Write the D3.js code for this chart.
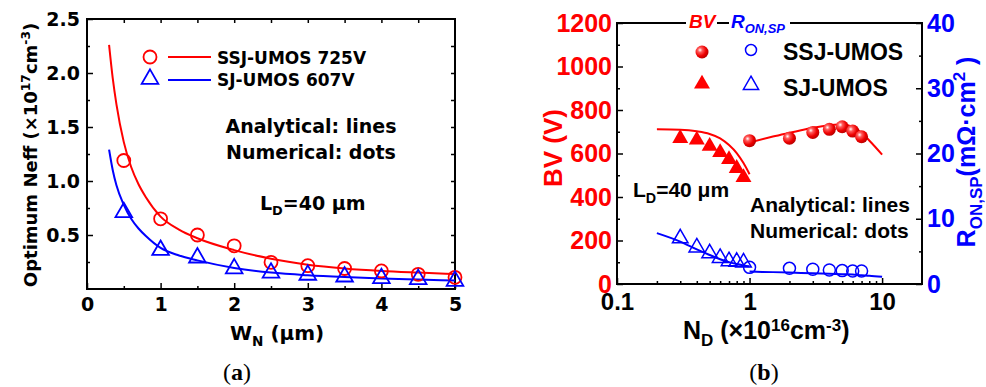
<!DOCTYPE html>
<html>
<head>
<meta charset="utf-8">
<script src="https://cdn.jsdelivr.net/npm/d3@7"></script>
<style>
  body { margin: 0; background: #fff; }
  svg { display: block; }
</style>
</head>
<body>
<div id="chart-area"></div>
<script>

// ---------- panel (a) data ----------
var wnDots = [0.5, 1, 1.5, 2, 2.5, 3, 3.5, 4, 4.5, 5];
var neffSSJ = [1.19, 0.65, 0.50, 0.40, 0.247, 0.216, 0.19, 0.167, 0.136, 0.108];
var neffSJ = [0.71, 0.36, 0.29, 0.19, 0.15, 0.13, 0.114, 0.099, 0.09, 0.074];

var wnLine = [0.3, 0.35, 0.4, 0.5, 0.6, 0.7, 0.8, 1, 1.25, 1.5, 2, 2.5, 3, 3.5, 4, 4.5, 5];
var lineSSJ = [2.26, 1.95, 1.71, 1.36, 1.13, 0.97, 0.85, 0.67, 0.55, 0.47, 0.36, 0.28, 0.225, 0.19, 0.167, 0.152, 0.139];
var lineSJ = [1.29, 1.10, 0.96, 0.78, 0.65, 0.56, 0.49, 0.38, 0.31, 0.265, 0.195, 0.152, 0.127, 0.11, 0.097, 0.087, 0.078];

var xTicksA = [0, 1, 2, 3, 4, 5];
var yTicksA = [0.5, 1.0, 1.5, 2.0, 2.5];

// ---------- panel (b) data ----------
var ndSJ = [0.3, 0.4, 0.5, 0.6, 0.7, 0.8, 0.9];
var bvSJ = [670, 662, 634, 605, 573, 532, 490];
var ronSJ = [7.0, 5.6, 4.7, 4.0, 3.5, 3.4, 3.3];
var ndSSJ = [1, 2, 3, 4, 5, 6, 7];
var bvSSJ = [659, 670, 697, 711, 723, 703, 677];
var ronSSJ = [2.55, 2.4, 2.25, 2.15, 2.05, 2.0, 2.0];

var ndLineSJ = [0.2, 0.3, 0.4, 0.5, 0.6, 0.7, 0.8, 0.9, 1.0];
var bvLineSJ = [711, 709, 702, 690, 670, 639, 602, 556, 505];
var ronLineSJ = [7.8, 6.5, 5.3, 4.45, 3.8, 3.35, 3.05, 2.85, 2.7];
var ndLineSSJ = [1, 1.5, 2, 3, 4, 5, 6, 7, 8, 10];
var bvLineSSJ = [650, 678, 695, 718, 730, 735, 722, 695, 660, 595];
var ronLineSSJ = [1.9, 1.82, 1.75, 1.65, 1.58, 1.5, 1.45, 1.35, 1.28, 1.1];

var xTicksB = [0.1, 1, 10];
var xMinorB = [0.2, 0.3, 0.4, 0.5, 0.6, 0.7, 0.8, 0.9, 2, 3, 4, 5, 6, 7, 8, 9];
var bvTicks = [0, 200, 400, 600, 800, 1000, 1200];
var ronTicks = [0, 10, 20, 30, 40];

var RED = "#ff0000", BLUE = "#0000ff";

var svg = d3.select("#chart-area").append("svg")
    .attr("width", 986)
    .attr("height", 387);

var defs = svg.append("defs");
var grad = defs.append("radialGradient").attr("id", "sphere")
    .attr("cx", "35%").attr("cy", "35%").attr("r", "70%");
grad.append("stop").attr("offset", "0%").attr("stop-color", "#ffffff");
grad.append("stop").attr("offset", "25%").attr("stop-color", "#ff5a5a");
grad.append("stop").attr("offset", "65%").attr("stop-color", "#ee0000");
grad.append("stop").attr("offset", "100%").attr("stop-color", "#b30000");

// text with sub / superscript pieces: [text, "n"|"sub"|"sup"]
function richText(g, x, y, parts, size, attrs, supShift) {
    var t = g.append("text").attr("x", x).attr("y", y).attr("font-size", size);
    for (var k in attrs) t.attr(k, attrs[k]);
    var shift = 0;
    parts.forEach(function(p) {
        var s = t.append("tspan").text(p[0]);
        var target = 0;
        if (p[1] == "sub") { s.attr("font-size", size * 0.68); target = size * 0.28; }
        if (p[1] == "sup") { s.attr("font-size", size * 0.68); target = -size * (supShift || 0.4); }
        if (target - shift != 0) s.attr("dy", target - shift);
        shift = target;
    });
    return t;
}

function styleAxis(sel, size, color) {
    sel.select(".domain").remove();
    sel.selectAll(".tick line").attr("stroke", "#000").attr("stroke-width", 1.5);
    sel.selectAll("text").attr("font-size", size).attr("fill", color || "#000");
    sel.attr("font-family", null);
}

// ================= panel (a) =================
var ga = svg.append("g").attr("font-family", "DejaVu Sans").attr("font-weight", "bold");
var ax = d3.scaleLinear().domain([0, 5]).range([87, 455]);
var ay = d3.scaleLinear().domain([0, 2.5]).range([289, 19]);

ga.append("g").attr("transform", "translate(0,289)")
    .call(d3.axisBottom(ax).tickValues(xTicksA).tickSize(-6).tickPadding(9).tickFormat(d3.format("d")))
    .call(styleAxis, 19);
ga.append("g").attr("transform", "translate(0,289)")
    .call(d3.axisBottom(ax).tickValues([0.5, 1.5, 2.5, 3.5, 4.5]).tickSize(-3).tickFormat(""))
    .call(styleAxis, 19);
ga.append("g").attr("transform", "translate(0,19)")
    .call(d3.axisTop(ax).tickValues([0.5, 1, 1.5, 2, 2.5, 3, 3.5, 4, 4.5]).tickSize(-4).tickFormat(""))
    .call(styleAxis, 19);
ga.append("g").attr("transform", "translate(87,0)")
    .call(d3.axisLeft(ay).tickValues(yTicksA).tickSize(-6).tickPadding(7).tickFormat(d3.format(".1f")))
    .call(styleAxis, 19);
ga.append("g").attr("transform", "translate(87,0)")
    .call(d3.axisLeft(ay).tickValues([0.25, 0.75, 1.25, 1.75, 2.25]).tickSize(-3).tickFormat(""))
    .call(styleAxis, 19);
ga.append("g").attr("transform", "translate(455,0)")
    .call(d3.axisRight(ay).tickValues([0.25, 0.5, 0.75, 1, 1.25, 1.5, 1.75, 2, 2.25]).tickSize(-4).tickFormat(""))
    .call(styleAxis, 19);

ga.append("rect").attr("x", 87).attr("y", 19).attr("width", 368).attr("height", 270)
    .attr("fill", "none").attr("stroke", "#000").attr("stroke-width", 2);

var lineA = d3.line().curve(d3.curveMonotoneX)
    .x(function(d) { return ax(d[0]); }).y(function(d) { return ay(d[1]); });

ga.append("path").datum(d3.zip(wnLine, lineSSJ)).attr("d", lineA)
    .attr("fill", "none").attr("stroke", RED).attr("stroke-width", 2);
ga.append("path").datum(d3.zip(wnLine, lineSJ)).attr("d", lineA)
    .attr("fill", "none").attr("stroke", BLUE).attr("stroke-width", 2);

var tri = d3.symbol().type(d3.symbolTriangle);

ga.selectAll(".ssj-a").data(d3.zip(wnDots, neffSSJ)).enter().append("circle")
    .attr("cx", function(d) { return ax(d[0]); }).attr("cy", function(d) { return ay(d[1]); })
    .attr("r", 6.5).attr("fill", "none").attr("stroke", RED).attr("stroke-width", 1.8);
ga.selectAll(".sj-a").data(d3.zip(wnDots, neffSJ)).enter().append("path")
    .attr("d", tri.size(120))
    .attr("transform", function(d) { return "translate(" + ax(d[0]) + "," + ay(d[1]) + ")"; })
    .attr("fill", "none").attr("stroke", BLUE).attr("stroke-width", 1.8);

// legend (a)
ga.append("circle").attr("cx", 150).attr("cy", 57).attr("r", 6.5)
    .attr("fill", "none").attr("stroke", RED).attr("stroke-width", 1.8);
ga.append("line").attr("x1", 168).attr("x2", 211).attr("y1", 57).attr("y2", 57)
    .attr("stroke", RED).attr("stroke-width", 2);
ga.append("text").attr("x", 217).attr("y", 64).attr("font-size", 17).text("SSJ-UMOS 725V");
ga.append("path").attr("d", tri.size(120)).attr("transform", "translate(150,79)")
    .attr("fill", "none").attr("stroke", BLUE).attr("stroke-width", 1.8);
ga.append("line").attr("x1", 168).attr("x2", 211).attr("y1", 80).attr("y2", 80)
    .attr("stroke", BLUE).attr("stroke-width", 2);
ga.append("text").attr("x", 217).attr("y", 86).attr("font-size", 17).text("SJ-UMOS 607V");

ga.append("text").attr("x", 311).attr("y", 133).attr("font-size", 19)
    .attr("text-anchor", "middle").text("Analytical: lines");
ga.append("text").attr("x", 311).attr("y", 159).attr("font-size", 19)
    .attr("text-anchor", "middle").text("Numerical: dots");
richText(ga, 260, 210, [["L", "n"], ["D", "sub"], ["=40 \u03bcm", "n"]], 19, {});

richText(ga, 230, 340, [["W", "n"], ["N", "sub"], [" (\u03bcm)", "n"]], 20, {});
richText(ga, 0, 0, [["Optimum Neff (\u00d710", "n"], ["17", "sup"], ["cm", "n"], ["-3", "sup"], [")", "n"]], 18,
    {"transform": "translate(37,155) rotate(-90)", "text-anchor": "middle"});

var la = svg.append("text").attr("x", 237).attr("y", 380).attr("text-anchor", "middle")
    .attr("font-family", "Liberation Serif").attr("font-size", 24);
la.append("tspan").text("(");
la.append("tspan").attr("font-weight", "bold").text("a");
la.append("tspan").text(")");

// ================= panel (b) =================
var gb = svg.append("g").attr("font-family", "Liberation Sans").attr("font-weight", "bold");
var bx = d3.scaleLog().domain([0.1, 20]).range([617, 922]);
var byL = d3.scaleLinear().domain([0, 1200]).range([284, 23]);
var byR = d3.scaleLinear().domain([0, 40]).range([284, 23]);

gb.append("g").attr("transform", "translate(0,284)")
    .call(d3.axisBottom(bx).tickValues(xTicksB).tickSize(-6).tickPadding(9).tickFormat(d3.format("~g")))
    .call(styleAxis, 24);
gb.append("g").attr("transform", "translate(0,284)")
    .call(d3.axisBottom(bx).tickValues(xMinorB).tickSize(-3).tickFormat(""))
    .call(styleAxis, 24);
gb.append("g").attr("transform", "translate(617,0)")
    .call(d3.axisLeft(byL).tickValues(bvTicks).tickSize(-6).tickPadding(5).tickFormat(d3.format("d")))
    .call(styleAxis, 25, RED);
gb.append("g").attr("transform", "translate(617,0)")
    .call(d3.axisLeft(byL).tickValues([100, 300, 500, 700, 900, 1100]).tickSize(-3).tickFormat(""))
    .call(styleAxis, 25);
gb.append("g").attr("transform", "translate(922,0)")
    .call(d3.axisRight(byR).tickValues(ronTicks).tickSize(-6).tickPadding(5).tickFormat(d3.format("d")))
    .call(styleAxis, 25, BLUE);
gb.append("g").attr("transform", "translate(922,0)")
    .call(d3.axisRight(byR).tickValues([5, 15, 25, 35]).tickSize(-3).tickFormat(""))
    .call(styleAxis, 25);

gb.append("rect").attr("x", 617).attr("y", 23).attr("width", 305).attr("height", 261)
    .attr("fill", "none").attr("stroke", "#000").attr("stroke-width", 2);

// header sitting on the top frame
gb.append("rect").attr("x", 686).attr("y", 19).attr("width", 104).attr("height", 8).attr("fill", "#fff");
gb.append("text").attr("x", 689).attr("y", 28).attr("font-size", 19).attr("font-style", "italic")
    .attr("fill", RED).text("BV");
gb.append("line").attr("x1", 717).attr("x2", 729).attr("y1", 23).attr("y2", 23)
    .attr("stroke", "#000").attr("stroke-width", 2);
richText(gb, 731, 28, [["R", "n"], ["ON,SP", "sub"]], 19, {"font-style": "italic", "fill": BLUE});

var lineBL = d3.line().curve(d3.curveMonotoneX)
    .x(function(d) { return bx(d[0]); }).y(function(d) { return byL(d[1]); });
var lineBR = d3.line().curve(d3.curveMonotoneX)
    .x(function(d) { return bx(d[0]); }).y(function(d) { return byR(d[1]); });

gb.append("path").datum(d3.zip(ndLineSJ, bvLineSJ)).attr("d", lineBL)
    .attr("fill", "none").attr("stroke", RED).attr("stroke-width", 2);
gb.append("path").datum(d3.zip(ndLineSSJ, bvLineSSJ)).attr("d", lineBL)
    .attr("fill", "none").attr("stroke", RED).attr("stroke-width", 2);
gb.append("path").datum(d3.zip(ndLineSJ, ronLineSJ)).attr("d", lineBR)
    .attr("fill", "none").attr("stroke", BLUE).attr("stroke-width", 2);
gb.append("path").datum(d3.zip(ndLineSSJ, ronLineSSJ)).attr("d", lineBR)
    .attr("fill", "none").attr("stroke", BLUE).attr("stroke-width", 2);

gb.selectAll(".bvsj").data(d3.zip(ndSJ, bvSJ)).enter().append("path")
    .attr("d", tri.size(110))
    .attr("transform", function(d) { return "translate(" + bx(d[0]) + "," + byL(d[1]) + ")"; })
    .attr("fill", RED);
gb.selectAll(".bvssj").data(d3.zip(ndSSJ, bvSSJ)).enter().append("circle")
    .attr("cx", function(d) { return bx(d[0]); }).attr("cy", function(d) { return byL(d[1]); })
    .attr("r", 6.5).attr("fill", "url(#sphere)");
gb.selectAll(".ronsj").data(d3.zip(ndSJ, ronSJ)).enter().append("path")
    .attr("d", tri.size(105))
    .attr("transform", function(d) { return "translate(" + bx(d[0]) + "," + byR(d[1]) + ")"; })
    .attr("fill", "none").attr("stroke", BLUE).attr("stroke-width", 1.5);
gb.selectAll(".ronssj").data(d3.zip(ndSSJ, ronSSJ)).enter().append("circle")
    .attr("cx", function(d) { return bx(d[0]); }).attr("cy", function(d) { return byR(d[1]); })
    .attr("r", 6).attr("fill", "none").attr("stroke", BLUE).attr("stroke-width", 1.5);

// legend (b)
gb.append("circle").attr("cx", 702).attr("cy", 52).attr("r", 6.5).attr("fill", "url(#sphere)");
gb.append("circle").attr("cx", 751).attr("cy", 50).attr("r", 5.5)
    .attr("fill", "none").attr("stroke", BLUE).attr("stroke-width", 1.5);
gb.append("text").attr("x", 783).attr("y", 60).attr("font-size", 23).text("SSJ-UMOS");
gb.append("path").attr("d", tri.size(110)).attr("transform", "translate(702,84)").attr("fill", RED);
gb.append("path").attr("d", tri.size(100)).attr("transform", "translate(751,85)")
    .attr("fill", "none").attr("stroke", BLUE).attr("stroke-width", 1.5);
gb.append("text").attr("x", 783).attr("y", 96).attr("font-size", 23).text("SJ-UMOS");

richText(gb, 633, 197, [["L", "n"], ["D", "sub"], ["=40 \u03bcm", "n"]], 21, {});
gb.append("text").attr("x", 750).attr("y", 212).attr("font-size", 21).text("Analytical: lines");
gb.append("text").attr("x", 750).attr("y", 238).attr("font-size", 21).text("Numerical: dots");

richText(gb, 683, 339, [["N", "n"], ["D", "sub"], [" (\u00d710", "n"], ["16", "sup"], ["cm", "n"], ["-3", "sup"], [")", "n"]], 25, {}, 0.32);
gb.append("text").attr("transform", "translate(562,148) rotate(-90)").attr("text-anchor", "middle")
    .attr("font-size", 26).attr("fill", RED).text("BV (V)");
richText(gb, 0, 0, [["R", "n"], ["ON,SP", "sub"], ["(m\u03a9\u00b7cm", "n"], ["2", "sup"], [" )", "n"]], 25,
    {"transform": "translate(975,152) rotate(-90)", "text-anchor": "middle", "fill": BLUE});

var lb = svg.append("text").attr("x", 764).attr("y", 380).attr("text-anchor", "middle")
    .attr("font-family", "Liberation Serif").attr("font-size", 24);
lb.append("tspan").text("(");
lb.append("tspan").attr("font-weight", "bold").text("b");
lb.append("tspan").text(")");

</script>
</body>
</html>
